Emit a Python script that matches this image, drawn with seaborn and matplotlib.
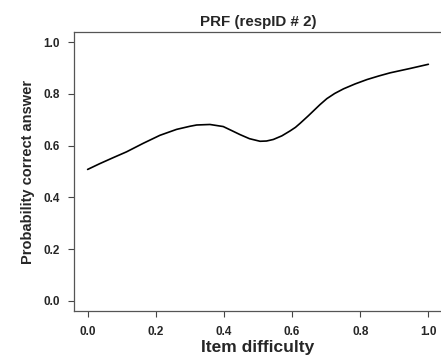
import matplotlib
matplotlib.use("Agg")
import matplotlib.pyplot as plt
import seaborn as sns
import pandas as pd

# Data
item_difficulty = [0.0, 0.035, 0.074, 0.114, 0.163, 0.212, 0.261, 0.30, 0.32,
                   0.359, 0.398, 0.425, 0.447, 0.475, 0.506, 0.525, 0.545, 0.57,
                   0.594, 0.61, 0.624, 0.648, 0.663, 0.682, 0.702, 0.725, 0.751,
                   0.785, 0.82, 0.855, 0.888, 0.947, 1.0]
prob_correct = [0.508, 0.530, 0.553, 0.576, 0.609, 0.640, 0.663, 0.675, 0.680,
                0.682, 0.674, 0.657, 0.643, 0.627, 0.617, 0.618, 0.624, 0.638,
                0.657, 0.671, 0.687, 0.716, 0.735, 0.759, 0.782, 0.802, 0.820,
                0.839, 0.856, 0.870, 0.882, 0.899, 0.915]
x_ticks = [0.0, 0.2, 0.4, 0.6, 0.8, 1.0]
y_ticks = [0.0, 0.2, 0.4, 0.6, 0.8, 1.0]

sns.set_style("white")
plt.rcParams['font.family'] = ['Liberation Sans', 'DejaVu Sans']
plt.rcParams['font.weight'] = 'bold'
plt.rcParams['lines.solid_joinstyle'] = 'round'

df = pd.DataFrame({"x": item_difficulty, "y": prob_correct})

fig = plt.figure(figsize=(4.41, 3.58), dpi=100)
ax = fig.add_axes([74/441, 1 - 311/358, 368/441, 279/358])
sns.lineplot(data=df, x="x", y="y", ax=ax, color="black", linewidth=1.2)

ax.set_xlim(-0.04, 1.04)
ax.set_ylim(-0.04, 1.04)
ax.set_xticks(x_ticks)
ax.set_yticks(y_ticks)
ax.set_xticklabels([f"{v:.1f}" for v in x_ticks], fontsize=8.5, fontweight='bold')
ax.set_yticklabels([f"{v:.1f}" for v in y_ticks], fontsize=8.5, fontweight='bold')
ax.tick_params(axis='x', direction='out', length=4, width=0.8, color='#444444', pad=7, bottom=True)
ax.tick_params(axis='y', direction='out', length=4.3, width=0.8, color='#444444', pad=6, left=True)
for s in ax.spines.values():
    s.set_color('#555555')
    s.set_linewidth(0.9)

ax.set_xlabel("Item difficulty", fontsize=12.5, fontweight='bold', labelpad=1)
ax.set_ylabel("Probability correct answer", fontsize=10.5, fontweight='bold', labelpad=6)
ax.set_title("PRF (respID # 2)", fontsize=10.9, fontweight='bold', pad=4)

fig.savefig("out.png", dpi=100, facecolor='white')
